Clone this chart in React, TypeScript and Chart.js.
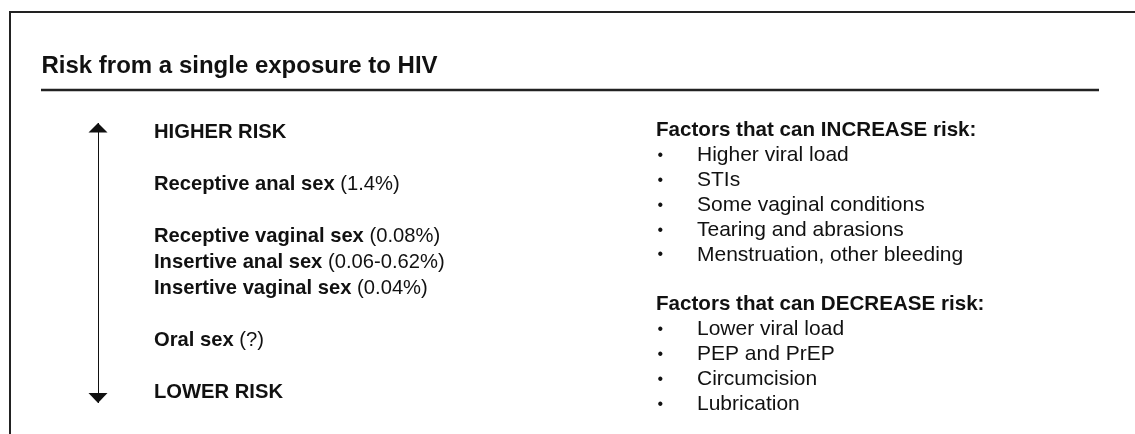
import React, { useEffect, useRef } from "react";
import { Chart, registerables } from "chart.js";

Chart.register(...registerables);

const TITLE = "Risk from a single exposure to HIV";

// Left column: exposure types ordered on the risk scale (10 = higher, 0 = lower)
const RISK_NAMES = [
  "HIGHER RISK",
  "Receptive anal sex",
  "Receptive vaginal sex",
  "Insertive anal sex",
  "Insertive vaginal sex",
  "Oral sex",
  "LOWER RISK",
];
const RISK_VALUES = ["", "(1.4%)", "(0.08%)", "(0.06-0.62%)", "(0.04%)", "(?)", ""];
const RISK_LEVELS = [10, 8, 6, 5, 4, 2, 0];

const INCREASE_HEADING = "Factors that can INCREASE risk:";
const INCREASE_FACTORS = [
  "Higher viral load",
  "STIs",
  "Some vaginal conditions",
  "Tearing and abrasions",
  "Menstruation, other bleeding",
];
const DECREASE_HEADING = "Factors that can DECREASE risk:";
const DECREASE_FACTORS = ["Lower viral load", "PEP and PrEP", "Circumcision", "Lubrication"];

const SCALE_MIN = -0.4;
const SCALE_MAX = 10.35;

const FONT = '"Liberation Sans", Arial, Helvetica, sans-serif';
const INK = "#111111";

const infographicPlugin = {
  id: "infographic",
  afterDatasetsDraw(chart: any) {
    const ctx = chart.ctx as CanvasRenderingContext2D;
    const area = chart.chartArea;
    const yScale = chart.scales.y;
    const xScale = chart.scales.x;
    ctx.save();

    // outer frame
    ctx.strokeStyle = "#222";
    ctx.lineWidth = 2;
    ctx.beginPath();
    ctx.moveTo(10, chart.height);
    ctx.lineTo(10, 12);
    ctx.lineTo(chart.width, 12);
    ctx.stroke();

    // title
    ctx.fillStyle = INK;
    ctx.textAlign = "left";
    ctx.textBaseline = "alphabetic";
    ctx.font = `bold 24px ${FONT}`;
    ctx.fillText(TITLE, 41.5, 72.7);

    // underline
    ctx.strokeStyle = "#222";
    ctx.lineWidth = 2.5;
    ctx.beginPath();
    ctx.moveTo(41, 90);
    ctx.lineTo(1099, 90);
    ctx.stroke();

    // arrow heads
    const ax = xScale.getPixelForValue(0);
    const top = yScale.getPixelForValue(SCALE_MAX);
    const bottom = yScale.getPixelForValue(SCALE_MIN);
    ctx.fillStyle = INK;
    ctx.beginPath();
    ctx.moveTo(ax, top);
    ctx.lineTo(ax - 9.5, top + 9.5);
    ctx.lineTo(ax + 9.5, top + 9.5);
    ctx.closePath();
    ctx.fill();
    ctx.beginPath();
    ctx.moveTo(ax, bottom);
    ctx.lineTo(ax - 9.5, bottom - 10);
    ctx.lineTo(ax + 9.5, bottom - 10);
    ctx.closePath();
    ctx.fill();

    // left column labels, placed at risk-scale positions
    const meta = chart.getDatasetMeta(1);
    const textX = area.left + 56;
    ctx.textBaseline = "middle";
    meta.data.forEach((pt: any, i: number) => {
      const y = pt.y;
      ctx.font = `bold 20.2px ${FONT}`;
      ctx.fillText(RISK_NAMES[i], textX, y);
      if (RISK_VALUES[i]) {
        const w = ctx.measureText(RISK_NAMES[i] + " ").width;
        ctx.font = `20.2px ${FONT}`;
        ctx.fillText(RISK_VALUES[i], textX + w, y);
      }
    });

    // right column lists
    const rx = area.left + 558;
    const lineH = 24.9;
    let y = 130.5;
    const drawList = (heading: string, items: string[]) => {
      ctx.font = `bold 20.6px ${FONT}`;
      ctx.fillText(heading, rx, y);
      y += lineH;
      items.forEach((it) => {
        ctx.font = `16px ${FONT}`;
        ctx.fillText("\u2022", rx + 1.5, y);
        ctx.font = `21px ${FONT}`;
        ctx.fillText(it, rx + 41, y);
        y += lineH;
      });
    };
    drawList(INCREASE_HEADING, INCREASE_FACTORS);
    y += lineH;
    drawList(DECREASE_HEADING, DECREASE_FACTORS);

    ctx.restore();
  },
};

export default function App() {
  const canvasRef = useRef<HTMLCanvasElement | null>(null);

  useEffect(() => {
    document.body.style.margin = "0";
    const canvas = canvasRef.current;
    if (!canvas) return;
    const chart = new Chart(canvas, {
      type: "scatter",
      data: {
        datasets: [
          {
            label: "risk arrow",
            data: [
              { x: 0, y: SCALE_MAX },
              { x: 0, y: SCALE_MIN },
            ],
            showLine: true,
            borderColor: INK,
            borderWidth: 2,
            pointRadius: 0,
            fill: false,
          },
          {
            label: "exposures",
            data: RISK_LEVELS.map((lv) => ({ x: 0, y: lv })),
            pointRadius: 0,
            showLine: false,
          },
        ],
      },
      options: {
        animation: false,
        responsive: false,
        devicePixelRatio: 1,
        layout: { padding: { left: 98, right: 36, top: 123, bottom: 31 } },
        plugins: {
          legend: { display: false },
          tooltip: { enabled: false },
          title: { display: false },
        },
        scales: {
          x: { type: "linear", min: 0, max: 1, display: false },
          y: { type: "linear", min: SCALE_MIN, max: SCALE_MAX, display: false },
        },
        events: [],
      },
      plugins: [infographicPlugin],
    });
    return () => chart.destroy();
  }, []);

  return (
    <div style={{ width: 1135, height: 434, background: "#fff" }}>
      <canvas ref={canvasRef} width={1135} height={434} style={{ display: "block" }} />
    </div>
  );
}
